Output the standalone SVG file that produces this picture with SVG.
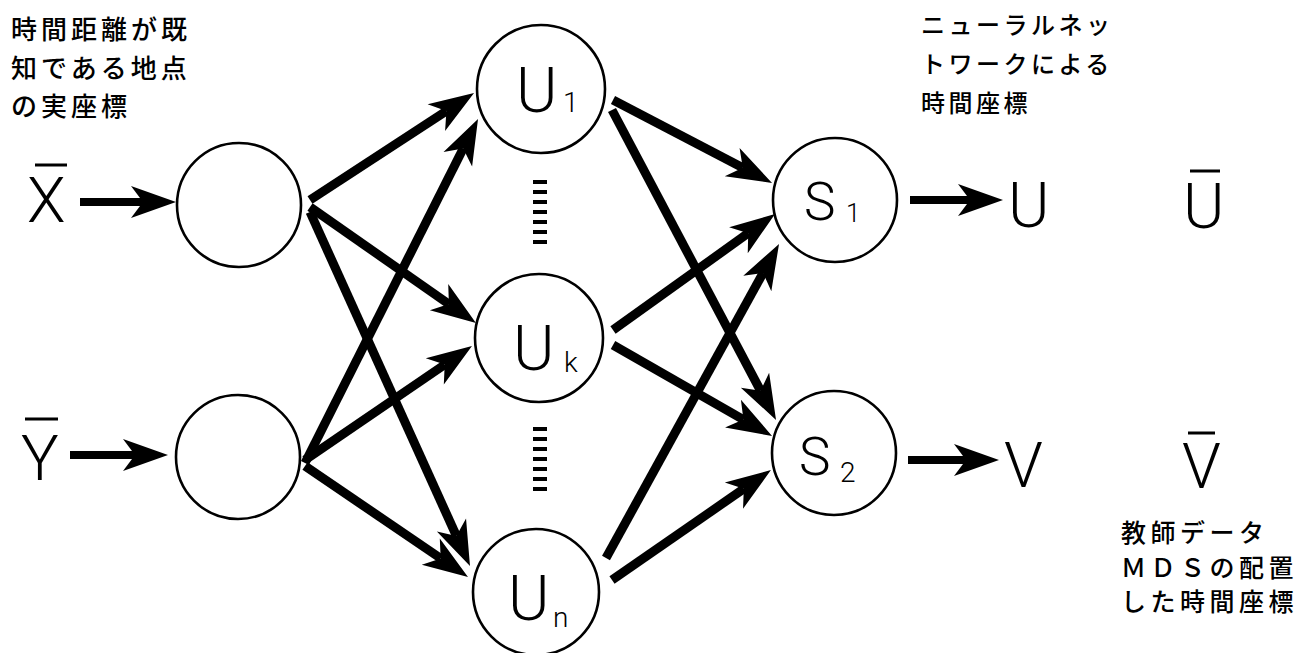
<svg xmlns="http://www.w3.org/2000/svg" width="1308" height="653" viewBox="0 0 1308 653">
  <style>
    .node { fill: #fff; stroke: #000; stroke-width: 2.6; }
    .lbl { font-family: Roboto, "Liberation Sans", sans-serif; font-weight: 300; fill: #000; }
    .big { font-size: 63px; }
    .mid { font-size: 53px; }
    .sub { font-size: 28px; }
    .jp { font-family: "Noto Sans CJK JP", sans-serif; font-weight: 500; fill: #000; }
    .bar { stroke: #000; stroke-width: 3; }
    .edge { fill: none; stroke: #000; stroke-width: 9; stroke-linecap: butt; marker-end: url(#head); }
    .io { fill: none; stroke: #000; stroke-width: 8; stroke-linecap: butt; marker-end: url(#head); }
    .dots { stroke: #000; stroke-width: 14; stroke-dasharray: 4 6; }
  </style>
  <defs>
    <!-- barbed arrowhead; origin sits at the notch where the shaft stops -->
    <marker id="head" markerUnits="userSpaceOnUse" orient="auto" refX="0" refY="0"
            markerWidth="100" markerHeight="100" overflow="visible">
      <path d="M 0 0 L -12 -16 L 33 0 L -12 16 Z" fill="#000"/>
    </marker>
  </defs>
  <rect width="1308" height="653" fill="#fff"/>

  <!-- captions -->
  <g id="caption-input" class="jp" font-size="26" letter-spacing="4">
    <text x="11" y="39">時間距離が既</text>
    <text x="11" y="78">知である地点</text>
    <text x="11" y="116">の実座標</text>
  </g>
  <g id="caption-network" class="jp" font-size="24" letter-spacing="3.5">
    <text x="921" y="34">ニューラルネッ</text>
    <text x="921" y="73">トワークによる</text>
    <text x="921" y="112">時間座標</text>
  </g>
  <g id="caption-teacher" class="jp" font-size="25" letter-spacing="4.5">
    <text x="1121" y="542">教師データ</text>
    <text x="1121" y="577">ＭＤＳの配置</text>
    <text x="1121" y="611">した時間座標</text>
  </g>

  <!-- input symbols -->
  <g id="in-x">
    <line class="bar" x1="35" y1="165" x2="67" y2="165"/>
    <text class="lbl big" x="27" y="222">X</text>
  </g>
  <g id="in-y">
    <line class="bar" x1="25" y1="419" x2="58" y2="419"/>
    <text class="lbl big" x="21" y="480">Y</text>
  </g>

  <!-- connectors -->
  <g id="connectors">
    <!-- inputs -->
    <path class="io" d="M 80 202 L 143 202"/>
    <path class="io" d="M 70 455 L 135 455"/>
    <!-- input layer to hidden layer -->
    <path class="edge" d="M 310 200 L 446.4 111"/>
    <path class="edge" d="M 305 463 L 463.2 148.5"/>
    <path class="edge" d="M 310 207 L 448.9 304.1"/>
    <path class="edge" d="M 305 460 L 444.7 364.6"/>
    <path class="edge" d="M 310 212 L 456.4 535.9"/>
    <path class="edge" d="M 305 466 L 440.7 558.4"/>
    <!-- hidden layer to output layer -->
    <path class="edge" d="M 613 100 L 742.8 167.7"/>
    <path class="edge" d="M 612 110 L 760.6 390.8"/>
    <path class="edge" d="M 613 330 L 748.2 233.2"/>
    <path class="edge" d="M 613 345 L 743.4 419.6"/>
    <path class="edge" d="M 606 558 L 763.1 272.9"/>
    <path class="edge" d="M 612 580 L 743.8 488.8"/>
    <!-- outputs -->
    <path class="io" d="M 910 200 L 970 200"/>
    <path class="io" d="M 908 460 L 966 460"/>
    <!-- elided hidden units -->
    <line class="dots" x1="540" y1="180" x2="540" y2="246"/>
    <line class="dots" x1="540" y1="427" x2="540" y2="493"/>
  </g>

  <!-- input layer -->
  <g id="node-in1"><circle class="node" cx="239" cy="205" r="62"/></g>
  <g id="node-in2"><circle class="node" cx="238" cy="457" r="62"/></g>

  <!-- hidden layer -->
  <g id="node-u1">
    <circle class="node" cx="541" cy="89" r="64"/>
    <text class="lbl big" x="516" y="112">U</text>
    <text class="lbl sub" x="563" y="112">1</text>
  </g>
  <g id="node-uk">
    <circle class="node" cx="539" cy="338" r="64"/>
    <text class="lbl big" x="513" y="370">U</text>
    <text class="lbl sub" x="564" y="372">k</text>
  </g>
  <g id="node-un">
    <circle class="node" cx="536" cy="592" r="63"/>
    <text class="lbl big" x="508" y="620">U</text>
    <text class="lbl sub" x="553" y="627">n</text>
  </g>

  <!-- output layer -->
  <g id="node-s1">
    <circle class="node" cx="835" cy="200" r="62"/>
    <text class="lbl mid" x="804" y="220">S</text>
    <text class="lbl" font-size="26" x="846" y="222">1</text>
  </g>
  <g id="node-s2">
    <circle class="node" cx="834" cy="453" r="62"/>
    <text class="lbl mid" x="799" y="475">S</text>
    <text class="lbl sub" x="840" y="482">2</text>
  </g>

  <!-- output symbols -->
  <g id="out-u"><text class="lbl big" x="1008" y="227">U</text></g>
  <g id="out-v"><text class="lbl big" x="1004" y="487">V</text></g>
  <g id="teacher-u">
    <line class="bar" x1="1190" y1="171" x2="1220" y2="171"/>
    <text class="lbl big" x="1183" y="228">U</text>
  </g>
  <g id="teacher-v">
    <line class="bar" x1="1188" y1="433" x2="1215" y2="433"/>
    <text class="lbl big" x="1182" y="488">V</text>
  </g>
</svg>
